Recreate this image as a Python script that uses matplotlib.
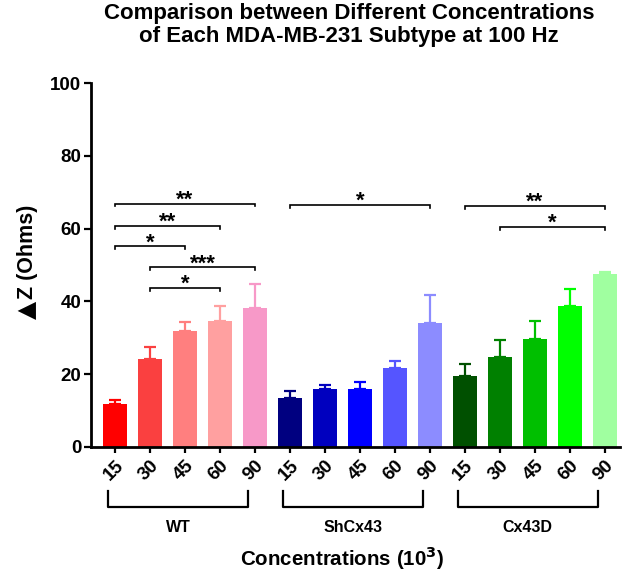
import matplotlib
matplotlib.use("Agg")
import matplotlib.pyplot as plt
import matplotlib.transforms as mtransforms

plt.rcParams['font.family'] = ['Liberation Sans', 'DejaVu Sans']
plt.rcParams['font.weight'] = 'bold'

groups = ["WT", "ShCx43", "Cx43D"]
concentrations = ["15", "30", "45", "60", "90"]
wt_means = [11.8, 24.2, 31.9, 34.6, 38.2]
wt_err = [1.1, 3.3, 2.4, 4.1, 6.6]
sh_means = [13.5, 16.0, 16.0, 21.7, 34.1]
sh_err = [1.9, 1.0, 1.9, 2.0, 7.7]
cx_means = [19.5, 24.7, 29.7, 38.7, 47.5]
cx_err = [3.3, 4.7, 4.9, 4.7, 0.7]
wt_colors = ["#FF0000", "#FA4040", "#FF7F7F", "#FFA0A0", "#F799C8"]
sh_colors = ["#000080", "#0000BF", "#0000FF", "#5555FF", "#8C8CFF"]
cx_colors = ["#005000", "#008000", "#00BF00", "#00FF00", "#A0FFA0"]

# significance: (start index, end index, height, label)
sig_pairs = [(0, 4, 66.9, "**"), (0, 3, 60.8, "**"), (0, 2, 55.2, "*"),
             (1, 4, 49.4, "***"), (1, 3, 43.7, "*"),
             (5, 9, 66.6, "*"),
             (10, 14, 66.3, "**"), (11, 14, 60.5, "*")]

means = wt_means + sh_means + cx_means
errs = wt_err + sh_err + cx_err
colors = wt_colors + sh_colors + cx_colors
labels = concentrations * 3
x = list(range(len(means)))

fig = plt.figure(figsize=(6.26, 5.73), dpi=100)
ax = fig.add_axes([0.1454, 0.2199, 0.8446, 0.6351])

ax.bar(x, means, width=0.68, color=colors, edgecolor='none', zorder=2)
for xi, m, e, c in zip(x, means, errs, colors):
    ax.errorbar([xi], [m], yerr=[[0], [e]], fmt='none', ecolor=c,
                elinewidth=1.6, capsize=4.5, capthick=1.6, zorder=1)

for i0, i1, h, lab in sig_pairs:
    ax.plot([i0, i0, i1, i1], [h - 0.8, h, h, h - 0.8], color='black', lw=1.2,
            solid_joinstyle='miter')
    ax.text((i0 + i1) / 2, h - 0.6, lab, ha='center', va='baseline',
            fontsize=16, fontweight='bold')

ax.set_xlim(-0.69, 14.43)
ax.set_ylim(0, 100)
ax.set_yticks([0, 20, 40, 60, 80, 100])
ax.set_xticks(x)
ax.set_xticklabels(labels, rotation=45, ha='right', rotation_mode='anchor',
                   fontsize=13.5, fontweight='bold')
for lbl in ax.get_xticklabels():
    lbl.set_transform(lbl.get_transform() + mtransforms.ScaledTranslation(0.08, -0.06, fig.dpi_scale_trans))
ax.tick_params(axis='y', labelsize=13.5, width=1.6, length=5, pad=2)
ax.tick_params(axis='x', width=1.6, length=4, pad=3)
for lbl in ax.get_yticklabels():
    lbl.set_fontweight('bold')
for s in ['top', 'right']:
    ax.spines[s].set_visible(False)
for s in ['left', 'bottom']:
    ax.spines[s].set_linewidth(2)

# y-axis label: filled triangle (delta) + "Z (Ohms)"
fig.text(27 / 626, 1 - 310 / 573, "▲", family=['DejaVu Sans'], rotation=90,
         ha='center', va='center', fontsize=17)
fig.text(27 / 626, 1 - 252 / 573, "Z (Ohms)", rotation=90,
         ha='center', va='center', fontsize=15.5, fontweight='bold')

trans = mtransforms.blended_transform_factory(ax.transData, fig.transFigure)
y_top = 1 - 491 / 573
y_bot = 1 - 507 / 573
y_lab = 1 - 527 / 573
for gi, g in enumerate(groups):
    a = gi * 5 - 0.2
    b = gi * 5 + 4 - 0.2
    fig.lines.append(plt.Line2D([a, a, b, b], [y_top, y_bot, y_bot, y_top],
                                transform=trans, color='black', lw=1.6))
    fig.text((a + b) / 2, y_lab, g, transform=trans, ha='center', va='center',
             fontsize=11.5, fontweight='bold')

fig.text(342 / 626, 1 - 558 / 573, "Concentrations (10$^{\\mathbf{3}}$)", ha='center',
         va='center', fontsize=14.8, fontweight='bold')
fig.text(349 / 626, 1 - 25 / 573,
         "Comparison between Different Concentrations\nof Each MDA-MB-231 Subtype at 100 Hz",
         ha='center', va='center', fontsize=16, fontweight='bold', linespacing=1.1)

fig.savefig("out.png", dpi=100)
